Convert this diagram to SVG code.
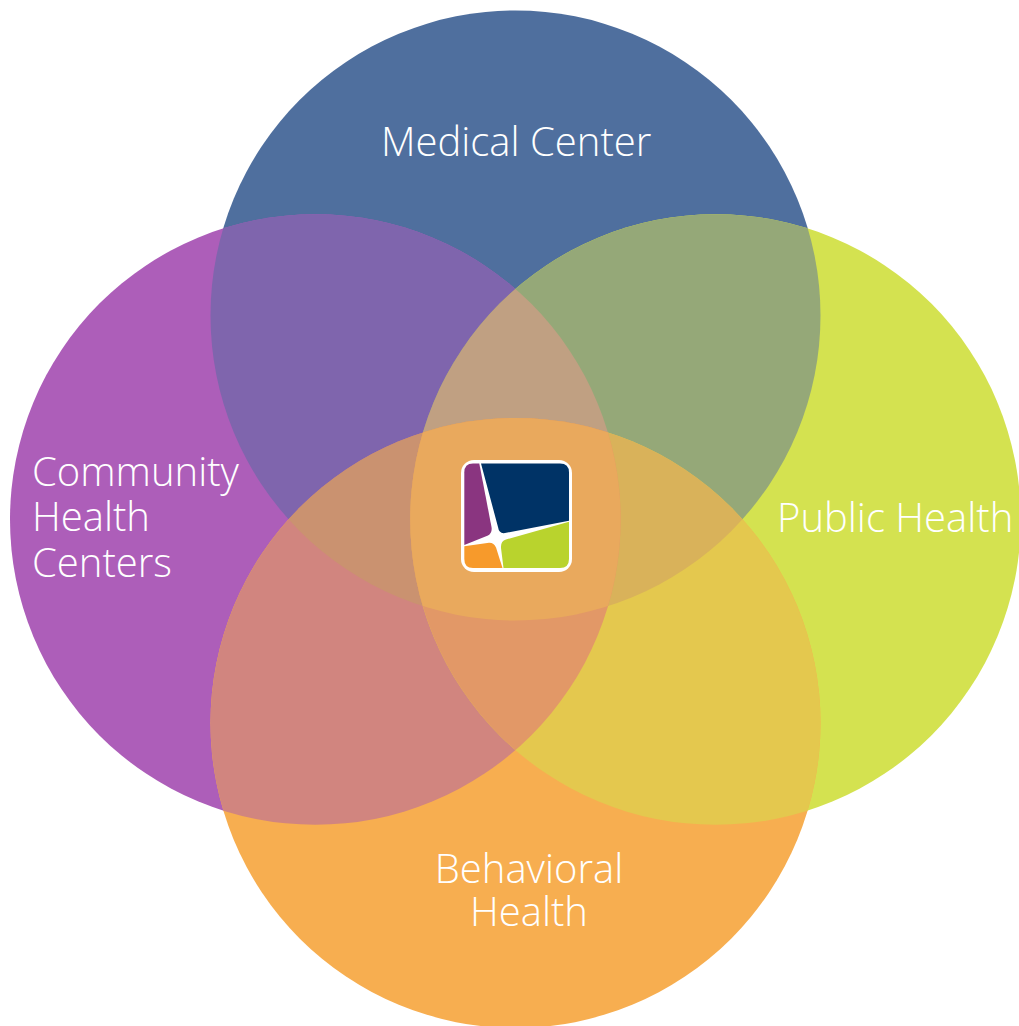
<svg xmlns="http://www.w3.org/2000/svg" width="1019" height="1026" viewBox="0 0 1019 1026">
<style>
text{font-family:"Open Sans","Noto Sans","Liberation Sans",sans-serif;font-weight:300;font-size:40px;fill:#fff}
</style>
<defs>
<circle id="ct" cx="515.5" cy="315.5" r="305"/>
<circle id="cl" cx="315.3" cy="519.5" r="305.3"/>
<circle id="cr" cx="715.5" cy="519.5" r="305.3"/>
<circle id="cb" cx="515.5" cy="723" r="305"/>
<clipPath id="t"><use href="#ct"/></clipPath>
<clipPath id="l"><use href="#cl"/></clipPath>
<clipPath id="r"><use href="#cr"/></clipPath>
<clipPath id="b"><use href="#cb"/></clipPath>
</defs>
<rect width="1019" height="1026" fill="#fff"/>
<g id="circle-medical-center"><use href="#ct" fill="#4f6f9e"/></g>
<g id="circle-community-health-centers"><use href="#cl" fill="#ad5eb9"/></g>
<g id="circle-public-health"><use href="#cr" fill="#d4e250"/></g>
<g id="circle-behavioral-health"><use href="#cb" fill="#f7ae50"/></g>
<g id="overlaps">
<g clip-path="url(#t)"><use href="#cl" fill="#7f65ad"/></g>
<g clip-path="url(#t)"><use href="#cr" fill="#95a878"/></g>
<g clip-path="url(#b)"><use href="#cl" fill="#d1857f"/></g>
<g clip-path="url(#b)"><use href="#cr" fill="#e4c84e"/></g>
<g clip-path="url(#t)"><g clip-path="url(#l)"><use href="#cr" fill="#c0a082"/></g></g>
<g clip-path="url(#t)"><g clip-path="url(#l)"><use href="#cb" fill="#ca9270"/></g></g>
<g clip-path="url(#t)"><g clip-path="url(#r)"><use href="#cb" fill="#d9b25a"/></g></g>
<g clip-path="url(#b)"><g clip-path="url(#l)"><use href="#cr" fill="#e29867"/></g></g>
<g clip-path="url(#t)"><g clip-path="url(#l)"><g clip-path="url(#r)"><use href="#cb" fill="#e9a95d"/></g></g></g>
</g>
<g id="logo">
<rect x="461" y="460" width="111" height="112" rx="13" fill="#fff"/>
<path d="M481 463.5 L560 463.5 Q569 463.5 569 472.5 L569 520.7 L505 533 Q499 534 498 527 Z" fill="#003366"/>
<path d="M464.3 472.5 Q464.3 463.5 473 463.5 L479.3 463.5 L491.5 527 Q492.5 533 488 535.5 L464.3 545 Z" fill="#8a3580"/>
<path d="M464.3 546.3 L489 542.7 Q494 542.5 496 547.5 L502.5 568 L473 568 Q464.3 568 464.3 559 Z" fill="#f79a2b"/>
<path d="M569 521.7 L569 559 Q569 568 560 568 L503.5 568 L501 548 Q500.5 541 506 539.5 Z" fill="#b9d32d"/>
</g>
<g id="labels">
<text x="381" y="156">Medical Center</text>
<text x="32" y="486">Community</text>
<text x="32" y="531">Health</text>
<text x="32" y="577">Centers</text>
<text x="777" y="532">Public Health</text>
<text x="529" y="883" text-anchor="middle">Behavioral</text>
<text x="529" y="926" text-anchor="middle">Health</text>
</g>
</svg>
